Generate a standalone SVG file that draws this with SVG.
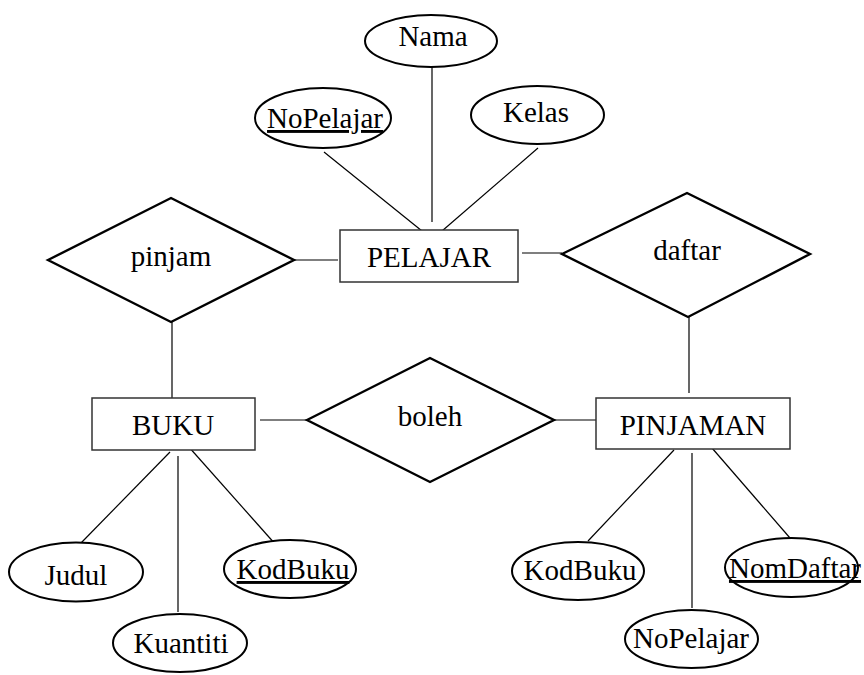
<svg xmlns="http://www.w3.org/2000/svg" width="864" height="675" viewBox="0 0 864 675">
<style>
  .bg { fill: #ffffff; }
  .ent { fill: #ffffff; stroke: #333333; stroke-width: 1.5; }
  .rel { fill: #ffffff; stroke: #000000; stroke-width: 2.4; }
  .att { fill: #ffffff; stroke: #000000; stroke-width: 2; }
  .lbl { font-family: "Liberation Serif", "Times New Roman", serif; font-size: 29px; fill: #000000; text-anchor: middle; }
  .key { text-decoration: underline; }
  .conn line { stroke: #000000; stroke-width: 1.2; }
</style>
<rect class="bg" x="0" y="0" width="864" height="675"/>

<g id="connectors" class="conn">
  <line x1="324" y1="152" x2="422" y2="231"/>
  <line x1="432" y1="67" x2="432" y2="222"/>
  <line x1="538" y1="148" x2="442" y2="231"/>
  <line x1="294" y1="260" x2="338" y2="260"/>
  <line x1="522" y1="253" x2="562" y2="253"/>
  <line x1="172" y1="322" x2="172" y2="398"/>
  <line x1="689" y1="317" x2="689" y2="393"/>
  <line x1="260" y1="420" x2="307" y2="420"/>
  <line x1="554" y1="420" x2="597" y2="420"/>
  <line x1="170" y1="452" x2="81" y2="543"/>
  <line x1="178" y1="456" x2="178" y2="612"/>
  <line x1="188" y1="446" x2="276" y2="545"/>
  <line x1="674" y1="450" x2="588" y2="541"/>
  <line x1="692" y1="453" x2="692" y2="608"/>
  <line x1="712" y1="448" x2="790" y2="538"/>
</g>

<g id="PELAJAR">
  <rect class="ent" x="340" y="230" width="178" height="52"/>
  <text class="lbl" x="429" y="267">PELAJAR</text>
</g>
<g id="BUKU">
  <rect class="ent" x="92" y="398" width="163" height="52"/>
  <text class="lbl" x="173" y="435">BUKU</text>
</g>
<g id="PINJAMAN">
  <rect class="ent" x="596" y="398" width="194" height="51"/>
  <text class="lbl" x="693" y="435">PINJAMAN</text>
</g>

<g id="pinjam">
  <polygon class="rel" points="48,260 171,198 294,260 171,322"/>
  <text class="lbl" x="171" y="266">pinjam</text>
</g>
<g id="daftar">
  <polygon class="rel" points="562,254 687,193 810,254 688,317"/>
  <text class="lbl" x="687" y="260">daftar</text>
</g>
<g id="boleh">
  <polygon class="rel" points="307,420 430,358 554,420 430,482"/>
  <text class="lbl" x="430" y="426">boleh</text>
</g>

<g id="Nama">
  <ellipse class="att" cx="431" cy="41" rx="66" ry="26"/>
  <text class="lbl" x="433" y="46">Nama</text>
</g>
<g id="NoPelajar-key">
  <ellipse class="att" cx="323" cy="118" rx="68" ry="30"/>
  <text class="lbl key" x="325" y="128">NoPelajar</text>
</g>
<g id="Kelas">
  <ellipse class="att" cx="537.5" cy="115" rx="66.5" ry="29"/>
  <text class="lbl" x="536" y="122">Kelas</text>
</g>
<g id="Judul">
  <ellipse class="att" cx="76" cy="572" rx="67" ry="29.5"/>
  <text class="lbl" x="76" y="585">Judul</text>
</g>
<g id="Kuantiti">
  <ellipse class="att" cx="180" cy="643" rx="67" ry="29"/>
  <text class="lbl" x="181" y="653">Kuantiti</text>
</g>
<g id="KodBuku-key">
  <ellipse class="att" cx="290" cy="569" rx="66" ry="29"/>
  <text class="lbl key" x="293" y="579">KodBuku</text>
</g>
<g id="KodBuku">
  <ellipse class="att" cx="578" cy="571" rx="66" ry="29"/>
  <text class="lbl" x="580" y="580">KodBuku</text>
</g>
<g id="NoPelajar">
  <ellipse class="att" cx="691.5" cy="639" rx="66.5" ry="29"/>
  <text class="lbl" x="691" y="648">NoPelajar</text>
</g>
<g id="NomDaftar-key">
  <ellipse class="att" cx="791.5" cy="567.5" rx="66.5" ry="29.5"/>
  <text class="lbl key" x="795" y="578">NomDaftar</text>
</g>
</svg>
